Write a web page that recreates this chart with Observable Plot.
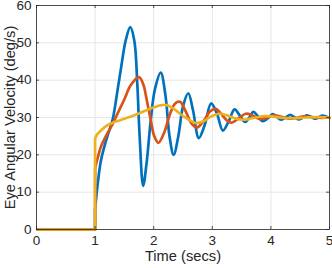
<!DOCTYPE html>
<html>
<head>
<meta charset="utf-8">
<script src="https://cdn.jsdelivr.net/npm/d3@7"></script>
<script src="https://cdn.jsdelivr.net/npm/@observablehq/plot@0.6"></script>
<style>
  html, body { margin: 0; padding: 0; background: #ffffff; }
  #chart { width: 332px; height: 268px; }
</style>
</head>
<body>
<div id="chart"></div>
<script>
// ---- Data ----
const xTicks = [0, 1, 2, 3, 4, 5];
const yTicks = [0, 10, 20, 30, 40, 50, 60];
const xLabel = "Time (secs)";
const yLabel = "Eye Angular Velocity (deg/s)";

// flat part before the step (all three series)
const preTime = [0, 1];
const preValue = [0, 0];

// series 1 (blue)
const blueTime  = [1.00, 1.05, 1.10, 1.20, 1.30, 1.38, 1.45, 1.52, 1.60, 1.67, 1.72, 1.76, 1.82, 1.88, 1.95, 2.02, 2.12, 2.20, 2.27, 2.34, 2.42, 2.50, 2.59, 2.67, 2.77, 2.87, 2.98, 3.08, 3.18, 3.28, 3.38, 3.47, 3.56, 3.63, 3.70, 3.78, 3.86, 3.95, 4.03, 4.10, 4.17, 4.25, 4.33, 4.40, 4.47, 4.54, 4.61, 4.68, 4.75, 4.81, 4.88, 4.95, 5.00];
const blueValue = [5.5, 13.0, 18.5, 24.5, 29.5, 37.0, 44.0, 50.5, 54.2, 50.5, 39.0, 25.0, 11.7, 18.0, 29.3, 37.5, 42.0, 36.0, 25.0, 20.0, 25.0, 33.0, 36.5, 32.0, 24.5, 28.0, 33.8, 31.0, 26.5, 29.0, 32.2, 30.5, 28.8, 30.0, 31.5, 30.3, 29.0, 29.8, 30.9, 30.2, 29.4, 30.0, 30.7, 30.1, 29.5, 29.9, 30.6, 30.2, 29.7, 30.0, 30.5, 30.2, 29.9];

// series 2 (orange)
const orangeTime  = [1.00, 1.05, 1.10, 1.20, 1.30, 1.40, 1.50, 1.61, 1.75, 1.83, 1.87, 1.95, 2.01, 2.08, 2.18, 2.28, 2.37, 2.45, 2.55, 2.65, 2.74, 2.85, 2.96, 3.06, 3.15, 3.25, 3.33, 3.45, 3.57, 3.68, 3.80, 3.92, 4.05, 4.18, 4.30, 4.43, 4.56, 4.70, 4.85, 5.00];
const orangeValue = [16.5, 19.5, 22.2, 25.5, 28.3, 31.6, 34.9, 38.7, 40.8, 38.5, 35.6, 29.3, 25.0, 23.2, 26.0, 31.0, 33.8, 34.2, 31.5, 28.3, 27.3, 29.0, 31.6, 32.3, 31.0, 29.2, 28.6, 29.8, 31.0, 30.6, 29.6, 29.9, 30.6, 30.2, 29.7, 29.9, 30.3, 30.1, 29.9, 30.0];

// series 3 (yellow)
const yellowTime  = [1.00, 1.03, 1.10, 1.20, 1.30, 1.45, 1.60, 1.75, 1.95, 2.10, 2.20, 2.32, 2.45, 2.58, 2.72, 2.85, 2.98, 3.12, 3.25, 3.38, 3.52, 3.68, 3.85, 4.00, 4.20, 4.40, 4.60, 4.80, 5.00];
const yellowValue = [24.2, 25.4, 26.5, 27.8, 28.6, 29.4, 30.2, 31.1, 32.4, 33.2, 33.4, 32.6, 31.0, 29.6, 28.5, 29.0, 30.3, 31.0, 30.6, 29.8, 29.4, 29.8, 30.3, 30.3, 29.9, 29.8, 30.0, 30.1, 30.0];

const seriesColors = { blue: "#0072BD", orange: "#D95319", yellow: "#EDB120" };

// ---- Build rows ----
const rows = (times, values) => times.map((t, i) => ({ t, v: values[i] }));
const stepRows = (times, values) => rows(preTime, preValue).concat([{ t: times[0], v: values[0] }]);

const series = [
  { key: "blue",   time: blueTime,   value: blueValue },
  { key: "orange", time: orangeTime, value: orangeValue },
  { key: "yellow", time: yellowTime, value: yellowValue }
];

const lineWidth = 2.7;
const axisColor = "#262626";
const gridColor = "#e6e6e6";
const tickLen = 3;

const lineMarks = series.flatMap(s => [
  Plot.line(stepRows(s.time, s.value), { x: "t", y: "v", stroke: seriesColors[s.key], strokeWidth: lineWidth, strokeLinejoin: "round", strokeLinecap: "butt" }),
  Plot.line(rows(s.time, s.value), { x: "t", y: "v", stroke: seriesColors[s.key], strokeWidth: lineWidth, curve: "catmull-rom", strokeLinejoin: "round", strokeLinecap: "round" })
]);

const chart = Plot.plot({
  width: 332,
  height: 268,
  marginLeft: 36,
  marginRight: 3,
  marginTop: 5,
  marginBottom: 39,
  style: { fontFamily: "'Liberation Sans', Arial, Helvetica, sans-serif", fontSize: "13.5px", color: axisColor, background: "#ffffff", overflow: "visible" },
  x: { domain: [0, 5], ticks: xTicks, label: null },
  y: { domain: [0, 60], ticks: yTicks, label: null },
  marks: [
    Plot.gridX(xTicks, { stroke: gridColor, strokeOpacity: 1, strokeWidth: 1 }),
    Plot.gridY(yTicks, { stroke: gridColor, strokeOpacity: 1, strokeWidth: 1 }),
    ...lineMarks,
    Plot.frame({ stroke: axisColor, strokeWidth: 0.8 }),
    // inward ticks
    Plot.ruleX(xTicks, { x: d => d, y1: 0, y2: 0, insetTop: -tickLen, stroke: axisColor, strokeWidth: 0.8 }),
    Plot.ruleX(xTicks, { x: d => d, y1: 60, y2: 60, insetBottom: -tickLen, stroke: axisColor, strokeWidth: 0.8 }),
    Plot.ruleY(yTicks, { y: d => d, x1: 0, x2: 0, insetRight: -tickLen, stroke: axisColor, strokeWidth: 0.8 }),
    Plot.ruleY(yTicks, { y: d => d, x1: 5, x2: 5, insetLeft: -tickLen, stroke: axisColor, strokeWidth: 0.8 }),
    // tick labels
    Plot.axisX(xTicks, { tickSize: 0, tickPadding: 6, fill: axisColor, fontSize: 13.5, label: null }),
    Plot.axisY(yTicks, { tickSize: 0, tickPadding: 5, fill: axisColor, fontSize: 13.5, label: null }),
    // axis titles
    Plot.text([xLabel], { frameAnchor: "bottom", textAnchor: "middle", dy: 31, fontSize: 14.7, fill: axisColor }),
    Plot.text([yLabel], { frameAnchor: "left", textAnchor: "middle", rotate: -90, dx: -26, fontSize: 14.7, fill: axisColor })
  ]
});

document.getElementById("chart").appendChild(chart);
</script>
</body>
</html>
